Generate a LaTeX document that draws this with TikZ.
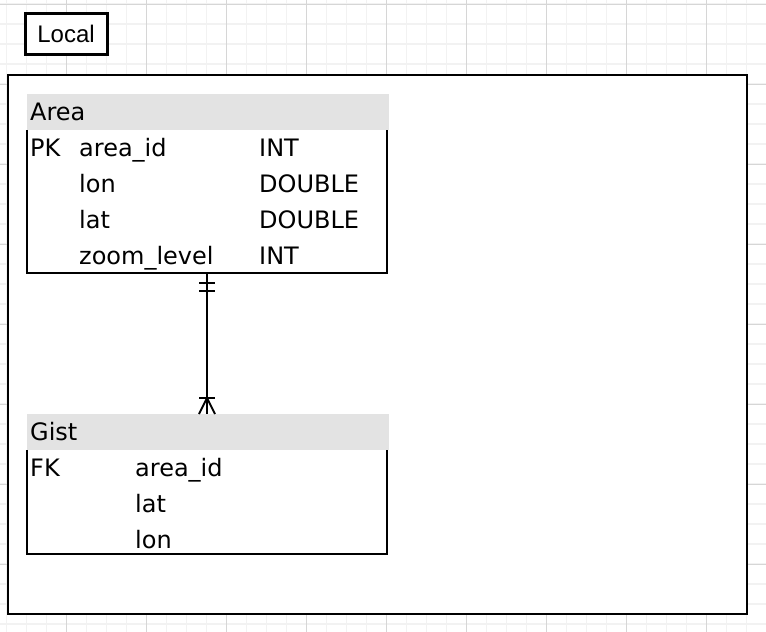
\documentclass[tikz,border=0pt]{standalone}
\usepackage{fontspec}
\setmainfont{DejaVu Sans}
\newfontfamily\labelfont{Liberation Sans}
\usepackage{tikz}
\usetikzlibrary{positioning}

\definecolor{gridminor}{HTML}{F2F2F2}
\definecolor{gridmajor}{HTML}{D6D6D6}
\definecolor{headgray}{HTML}{E3E3E3}

\begin{document}
\begin{tikzpicture}[x=1pt,y=-1pt,
				font=\fontsize{24}{29}\selectfont,
				table_head/.style ={rectangle, fill=headgray, anchor=north west,
					minimum width=362, minimum height=36, inner sep=0pt, outer sep=0pt},
				table_body/.style ={rectangle, anchor=north west,
					minimum width=360, inner sep=0pt, outer sep=0pt},
				cell/.style ={anchor=base west, inner sep=0pt},
				border/.style ={draw, line width=2pt},
				line/.style ={draw, line width=2pt}]

				\useasboundingbox (0,0) rectangle (766,632);

				% background grid
				\foreach \gx in {0,...,38}
					\draw[gridminor, line width=1.5pt] (6.7+20*\gx,0) -- (6.7+20*\gx,632);
				\foreach \gy in {0,...,31}
					\draw[gridminor, line width=1.5pt] (0,4+20*\gy) -- (766,4+20*\gy);
				\foreach \gx in {0,...,8}
					\draw[gridmajor, line width=1pt] (66.7+80*\gx,0) -- (66.7+80*\gx,632);
				\foreach \gy in {0,...,7}
					\draw[gridmajor, line width=1pt] (0,4+80*\gy) -- (766,4+80*\gy);

				% container and its label
				\node [draw, line width=3pt, fill=white, minimum width=82, minimum height=41,
					inner sep=0pt, font=\labelfont\fontsize{24}{29}\selectfont] (local) at (66,33.5) {Local};
				\node [draw, line width=2.5pt, fill=white, anchor=north west, outer sep=0pt,
					minimum width=739, minimum height=539, inner sep=0pt] (frame) at (8,75) {};

				% Area table
				\node [table_head] (areahead) at (27,94) {};
				\node [cell] (areatitle) at (30,120.5) {Area};
				\node [table_body, minimum height=143] (areabody) at (27,130) {};
				\path[border] (areabody.north west) -- (areabody.south west)
					-- (areabody.south east) -- (areabody.north east);
				% row 1
				\node [cell] (areapk) at (30,156.5) {PK};
				\node [cell] (areaid) at (79,156.5) {area\_id};
				\node [cell] (areaidtype) at (259,156.5) {INT};
				% row 2
				\node [cell] (arealon) at (79,192.5) {lon};
				\node [cell] (arealontype) at (259,192.5) {DOUBLE};
				% row 3
				\node [cell] (arealat) at (79,228.5) {lat};
				\node [cell] (arealattype) at (259,228.5) {DOUBLE};
				% row 4
				\node [cell] (areazoom) at (79,264.5) {zoom\_level};
				\node [cell] (areazoomtype) at (259,264.5) {INT};

				% Gist table
				\node [table_head] (gisthead) at (27,414) {};
				\node [cell] (gisttitle) at (30,440.5) {Gist};
				\node [table_body, minimum height=104] (gistbody) at (27,450) {};
				\path[border] (gistbody.north west) -- (gistbody.south west)
					-- (gistbody.south east) -- (gistbody.north east);
				\node [cell] (gistfk) at (30,476.5) {FK};
				\node [cell] (gistid) at (135,476.5) {area\_id};
				\node [cell] (gistlat) at (135,512.5) {lat};
				\node [cell] (gistlon) at (135,548.5) {lon};

				% relation: one (Area) to many (Gist)
				\coordinate (manyend) at (areabody.south |- gisthead.north);
				\begin{scope}[every path/.style=line]
					\path (areabody.south) -- (manyend);
					\path (areabody.south) ++(-8,10) -- ++(16,0);
					\path (areabody.south) ++(-8,18) -- ++(16,0);
					\path (manyend) ++(-8,-16) -- ++(16,0);
					\path (manyend) ++(-8,0) -- ++(8,-16) -- ++(8,16);
				\end{scope}
\end{tikzpicture}
\end{document}
